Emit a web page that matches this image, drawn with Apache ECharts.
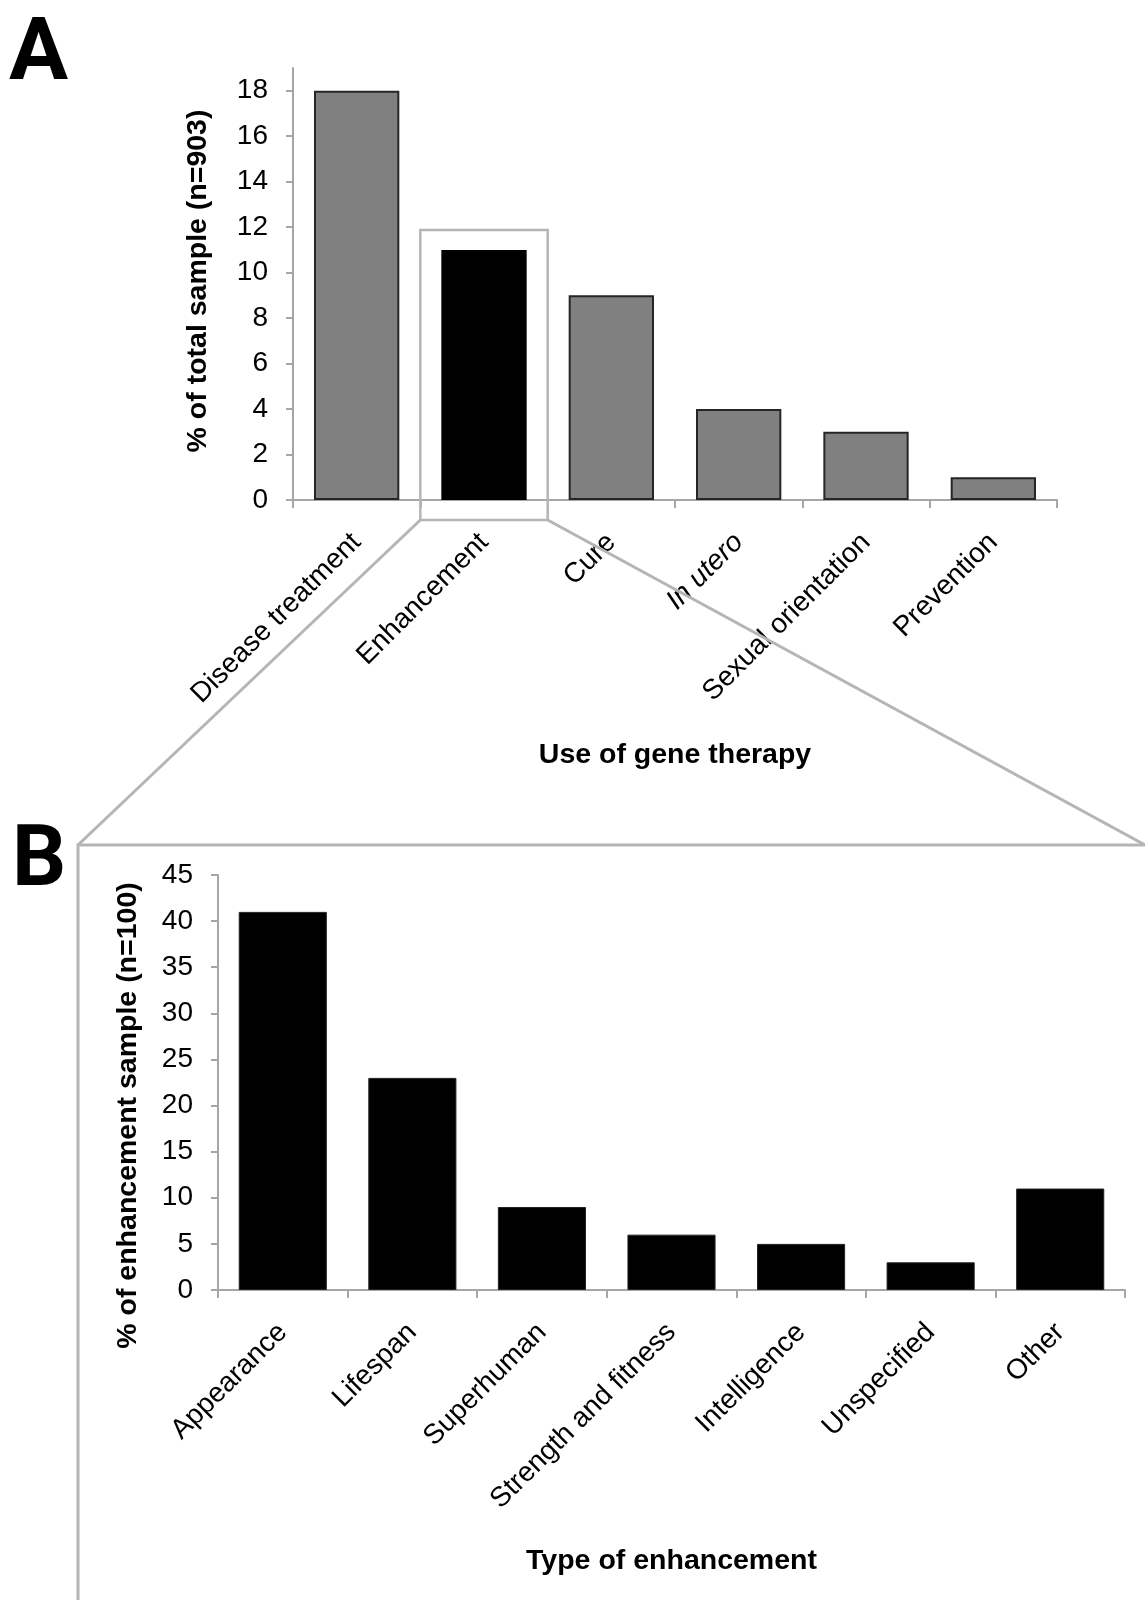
<!DOCTYPE html>
<html>
<head>
<meta charset="utf-8">
<script src="https://cdn.jsdelivr.net/npm/echarts@6/dist/echarts.min.js"></script>
<style>
html,body{margin:0;padding:0;background:#fff;}
#c{width:1145px;height:1600px;}
</style>
</head>
<body>
<div id="c"></div>
<script>
// ---- Data ----
const usesA = ['Disease treatment', 'Enhancement', 'Cure', 'In utero', 'Sexual orientation', 'Prevention'];
const valuesA = [18, 11, 9, 4, 3, 1];
const yTicksA = [0, 2, 4, 6, 8, 10, 12, 14, 16, 18];
const highlightA = 'Enhancement';
const italicA = ['In utero'];

const typesB = ['Appearance', 'Lifespan', 'Superhuman', 'Strength and fitness', 'Intelligence', 'Unspecified', 'Other'];
const valuesB = [41, 23, 9, 6, 5, 3, 11];
const yTicksB = [0, 5, 10, 15, 20, 25, 30, 35, 40, 45];

const titleAX = 'Use of gene therapy';
const titleAY = '% of total sample (n=903)';
const titleBX = 'Type of enhancement';
const titleBY = '% of enhancement sample (n=100)';

// ---- Styles ----
const FONT = '"Liberation Sans", Arial, sans-serif';
const AXIS_GRAY = '#a6a6a6';
const FRAME_GRAY = '#b5b5b5';
const LABEL_SIZE = 28;
const TITLE_SIZE = 28.5;

const GA = {left: 293, top: 68, width: 764, height: 432};
const GB = {left: 218, top: 875, width: 907, height: 415};

const chart = echarts.init(document.getElementById('c'), null, {renderer: 'canvas'});

function yAxisCfg(gridIndex, max, interval, ticks) {
  return {
    type: 'value', gridIndex, min: 0, max, interval,
    splitLine: {show: false},
    axisLine: {show: true, lineStyle: {color: AXIS_GRAY, width: 2}},
    axisTick: {show: true, length: 7, lineStyle: {color: AXIS_GRAY, width: 2}, customValues: ticks},
    axisLabel: {fontFamily: FONT, fontSize: LABEL_SIZE, color: '#000', margin: 25, customValues: ticks}
  };
}
function xAxisCfg(gridIndex, cats, margin, italicList) {
  return {
    type: 'category', gridIndex, data: cats,
    axisLine: {show: true, lineStyle: {color: AXIS_GRAY, width: 2}},
    axisTick: {show: true, length: 8, lineStyle: {color: AXIS_GRAY, width: 2}},
    axisLabel: {fontFamily: FONT, fontSize: LABEL_SIZE, color: '#000', rotate: 45, margin, interval: 0,
      formatter: v => (italicList.indexOf(v) >= 0 ? '{it|' + v + '}' : v),
      rich: {it: {fontFamily: FONT, fontSize: LABEL_SIZE, fontStyle: 'italic', color: '#000'}}}
  };
}

const option = {
  animation: false,
  backgroundColor: '#fff',
  grid: [GA, GB],
  xAxis: [xAxisCfg(0, usesA, 38, italicA), xAxisCfg(1, typesB, 38, [])],
  yAxis: [yAxisCfg(0, 19, 1, yTicksA), yAxisCfg(1, 45, 5, yTicksB)],
  series: [
    {
      type: 'bar', xAxisIndex: 0, yAxisIndex: 0, barCategoryGap: '33%',
      data: valuesA.map((v, i) => ({
        value: v,
        itemStyle: usesA[i] === highlightA
          ? {color: '#000', borderColor: '#000', borderWidth: 1.5}
          : {color: '#808080', borderColor: '#262626', borderWidth: 2}
      }))
    },
    {
      type: 'bar', xAxisIndex: 1, yAxisIndex: 1, barCategoryGap: '32%',
      itemStyle: {color: '#000', borderColor: '#222', borderWidth: 1},
      data: valuesB
    }
  ]
};
chart.setOption(option);

// ---- Decorations derived from the chart's own scales ----
const hiIdx = usesA.indexOf(highlightA);
const pTop = chart.convertToPixel({gridIndex: 0}, [hiIdx, valuesA[hiIdx]]);
const pZero = chart.convertToPixel({gridIndex: 0}, [hiIdx, 0]);
const catW = GA.width / usesA.length;
const pad = 20;
const rx0 = pTop[0] - catW / 2, rx1 = pTop[0] + catW / 2;
const ry0 = pTop[1] - pad, ry1 = pZero[1] + pad;
const boxLeft = 78, boxTop = 845, W = 1145, H = 1600;

const yA0 = chart.convertToPixel({gridIndex: 0}, [0, 0])[1];
const yAmax = chart.convertToPixel({gridIndex: 0}, [0, 19])[1];
const yB0 = chart.convertToPixel({gridIndex: 1}, [0, 0])[1];
const yBmax = chart.convertToPixel({gridIndex: 1}, [0, 45])[1];

const lineStyle = {stroke: FRAME_GRAY, lineWidth: 3, fill: null};
const LETTER_FONT = '"Roboto", "Liberation Sans", sans-serif';
chart.setOption({
  graphic: [
    {type: 'rect', shape: {x: rx0, y: ry0, width: rx1 - rx0, height: ry1 - ry0}, style: {stroke: FRAME_GRAY, lineWidth: 2.5, fill: null}, z: 100},
    {type: 'line', shape: {x1: rx0, y1: ry1, x2: boxLeft, y2: boxTop}, style: lineStyle, z: 100},
    {type: 'line', shape: {x1: rx1, y1: ry1, x2: W, y2: boxTop}, style: lineStyle, z: 100},
    {type: 'polyline', shape: {points: [[boxLeft, H], [boxLeft, boxTop], [W, boxTop]]}, style: lineStyle, z: 100},
    {type: 'text', x: 9, y: 57, style: {text: 'A', font: 'bold 88px ' + LETTER_FONT, fill: '#000', verticalAlign: 'middle', align: 'left'}},
    {type: 'text', x: 12, y: 864, style: {text: 'B', font: 'bold 85px ' + LETTER_FONT, fill: '#000', verticalAlign: 'middle', align: 'left'}},
    {type: 'text', x: 198, y: (yA0 + yAmax) / 2 - 3, rotation: Math.PI / 2,
      style: {text: titleAY, font: 'bold ' + TITLE_SIZE + 'px ' + FONT, fill: '#000', align: 'center', verticalAlign: 'middle'}},
    {type: 'text', x: 128, y: (yB0 + yBmax) / 2 + 33, rotation: Math.PI / 2,
      style: {text: titleBY, font: 'bold ' + TITLE_SIZE + 'px ' + FONT, fill: '#000', align: 'center', verticalAlign: 'middle'}},
    {type: 'text', x: GA.left + GA.width / 2, y: 755,
      style: {text: titleAX, font: 'bold ' + TITLE_SIZE + 'px ' + FONT, fill: '#000', align: 'center', verticalAlign: 'middle'}},
    {type: 'text', x: GB.left + GB.width / 2, y: 1561,
      style: {text: titleBX, font: 'bold ' + TITLE_SIZE + 'px ' + FONT, fill: '#000', align: 'center', verticalAlign: 'middle'}}
  ]
});
</script>
</body>
</html>
